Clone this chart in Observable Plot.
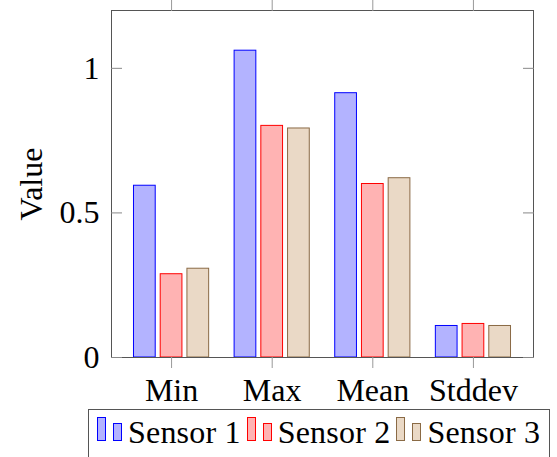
<!DOCTYPE html>
<html><head><meta charset="utf-8">
<script src="https://cdn.jsdelivr.net/npm/d3@7"></script>
<script src="https://cdn.jsdelivr.net/npm/@observablehq/plot@0.6"></script>
<style>
body{margin:0;background:#fff;font-family:"Liberation Serif","DejaVu Serif","Noto Serif","Times New Roman",serif;}
#wrap{position:relative;width:557px;height:457px;overflow:hidden;}
#chart svg{display:block;}
.legend{position:absolute;left:88px;top:409px;width:462px;height:70px;border:1px solid #555;box-sizing:border-box;padding:4px 0 0 8px;font-size:32px;line-height:36px;white-space:nowrap;color:#000;overflow:hidden;}
.legend .ic{display:inline-block;width:7px;box-sizing:content-box;margin-bottom:2px;}
.legend .ic1{height:22px;margin-right:7px;}
.legend .ic2{height:16px;margin-right:6px;}
.legend .lab{margin-right:6px;letter-spacing:0.2px;}
</style>
</head><body>
<div id="wrap"><div id="chart"></div><div class="legend" id="legend"></div></div>
<script>
const categories = ["Min", "Max", "Mean", "Stddev"];
const series = ["Sensor 1", "Sensor 2", "Sensor 3"];
const sensor1 = [0.594, 1.061, 0.914, 0.109];
const sensor2 = [0.288, 0.801, 0.600, 0.116];
const sensor3 = [0.307, 0.792, 0.620, 0.109];
const yTicks = [0, 0.5, 1];

const fills = ["#b3b3ff", "#ffb3b3", "#ead9c6"];
const strokes = ["#0000ff", "#ff0000", "#8a6a45"];

const values = [sensor1, sensor2, sensor3];
const rows = [];
categories.forEach((c, i) => series.forEach((s, k) => rows.push({cat: c, series: s, value: values[k][i]})));

// outer padding of the facet band scale, in pixels (frame and y axes sit at the plot edges)
const W = 557, mL = 111, mR = 24, fxPadI = 0.1, fxPadO = 0.147;
const fxStep = (W - mL - mR) / (categories.length - fxPadI + 2 * fxPadO);
const edge = fxPadO * fxStep;

const chart = Plot.plot({
  width: W, height: 405,
  marginLeft: mL, marginRight: mR, marginTop: 10, marginBottom: 48,
  style: {fontFamily: '"Liberation Serif","DejaVu Serif","Noto Serif","Times New Roman",serif', fontSize: "32px", background: "transparent", overflow: "visible"},
  fx: {domain: categories, paddingInner: fxPadI, paddingOuter: fxPadO, round: false, label: null},
  x: {domain: series, paddingInner: 0.187, paddingOuter: 0.288, round: false, axis: null},
  y: {domain: [0, 1.2]},
  marks: [
    ...series.map((s, k) => Plot.barY(rows.filter(d => d.series === s), {fx: "cat", x: "series", y: "value", fill: fills[k], stroke: strokes[k], strokeWidth: 1})),
    Plot.frame({facet: "super", stroke: "#555", insetLeft: -edge, insetRight: -edge}),
    Plot.axisY({anchor: "left", ticks: yTicks, tickSize: -11, tickPadding: 23, dx: -edge, tickFormat: d => String(d), stroke: "#888", label: "Value", labelAnchor: "center", labelOffset: 107, labelArrow: "none"}),
    Plot.axisY({anchor: "right", ticks: yTicks, tickSize: -11, dx: edge, tickFormat: () => "", stroke: "#888", label: null}),
    Plot.axisFx({anchor: "bottom", tickSize: 11, tickPadding: 10, stroke: "#999", label: null}),
    Plot.axisFx({anchor: "top", tickSize: 11, tickFormat: () => "", stroke: "#999", label: null})
  ]
});
document.getElementById("chart").appendChild(chart);

const legend = document.getElementById("legend");
series.forEach((s, k) => {
  const a = document.createElement("span");
  a.className = "ic ic1";
  a.style.background = fills[k]; a.style.border = `1px solid ${strokes[k]}`;
  const b = document.createElement("span");
  b.className = "ic ic2";
  b.style.background = fills[k]; b.style.border = `1px solid ${strokes[k]}`;
  const t = document.createElement("span");
  t.className = "lab";
  t.textContent = s;
  legend.append(a, b, t);
});
</script>
</body></html>
